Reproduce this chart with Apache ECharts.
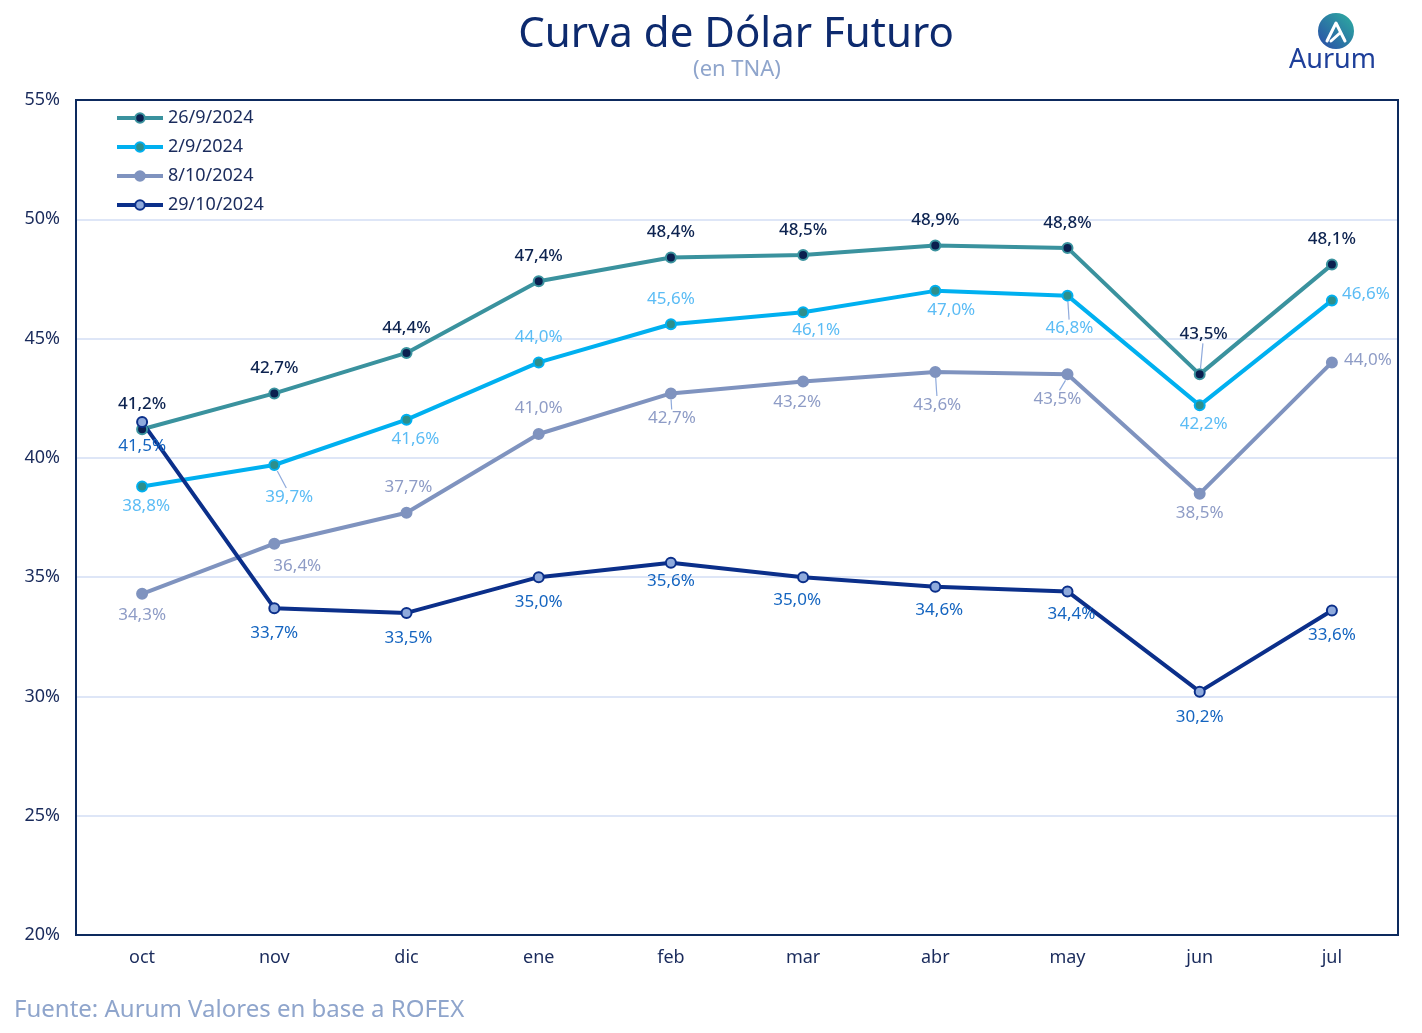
<!DOCTYPE html>
<html>
<head>
<meta charset="utf-8">
<script src="https://cdn.jsdelivr.net/npm/echarts@6/dist/echarts.min.js"></script>
<style>
html,body{margin:0;padding:0;background:#fff;}
#c{width:1422px;height:1033px;}
</style>
</head>
<body>
<div id="c"></div>
<script>
const categories = ['oct','nov','dic','ene','feb','mar','abr','may','jun','jul'];
const seriesNames = ['26/9/2024','2/9/2024','8/10/2024','29/10/2024'];
const s26_9 = [41.2, 42.7, 44.4, 47.4, 48.4, 48.5, 48.9, 48.8, 43.5, 48.1];
const s2_9 = [38.8, 39.7, 41.6, 44.0, 45.6, 46.1, 47.0, 46.8, 42.2, 46.6];
const s8_10 = [34.3, 36.4, 37.7, 41.0, 42.7, 43.2, 43.6, 43.5, 38.5, 44.0];
const s29_10 = [41.5, 33.7, 33.5, 35.0, 35.6, 35.0, 34.6, 34.4, 30.2, 33.6];
const yTicks = {min: 20, max: 55, interval: 5};

// label placement (style only): [dx, dy, leader]
const labelPlace = [
  [[0,-25],[0,-25],[0,-25],[0,-25],[0,-25],[0,-25],[0,-25],[0,-25],[4,-40,1],[0,-25]],
  [[4,20],[15,32,1],[9,19],[0,-25],[0,-25],[13,18],[16,19],[2,33,1],[4,19],[34,-6]],
  [[0,21],[23,22],[2,-26],[0,-26],[1,25,1],[-6,21],[2,33,1],[-10,25,1],[0,20],[36,-2]],
  [[0,24],[0,25],[2,25],[0,25],[0,18],[-6,23],[4,23],[4,23],[0,25],[0,25]]
];
const lineColors = ['#3a929e','#00b0f0','#7f93bf','#0b2f8a'];
const symFill = ['#0b1f4f','#2d8f8c','#7f93bf','#8faadc'];
const labelColors = ['#0d2350','#5bbcf5','#8e9cc6','#1565c0'];
const allData = [s26_9, s2_9, s8_10, s29_10];
const FONT = '"Noto Sans", sans-serif';

function fmt(v){ return v.toFixed(1).replace('.', ',') + '%'; }

const series = allData.map((arr, si) => ({
  name: seriesNames[si],
  type: 'line',
  data: arr.map((v, i) => ({
    value: v,
    label: {position: 'inside', offset: [labelPlace[si][i][0], labelPlace[si][i][1]]}
  })),
  symbol: 'circle',
  symbolSize: 10,
  lineStyle: {color: lineColors[si], width: 4},
  itemStyle: {color: symFill[si], borderColor: lineColors[si], borderWidth: 2},
  label: {
    show: true,
    formatter: p => fmt(p.value),
    color: labelColors[si],
    fontSize: 17,
    fontFamily: FONT,
    fontWeight: si === 0 ? 500 : 'normal'
  },
  emphasis: {disabled: true},
  animation: false
}));

const chart = echarts.init(document.getElementById('c'), null, {renderer: 'canvas'});
const option = {
  backgroundColor: '#ffffff',
  animation: false,
  legend: {
    orient: 'vertical',
    left: 110,
    top: 104,
    itemWidth: 46,
    itemHeight: 12,
    itemGap: 11,
    data: seriesNames,
    lineStyle: {width: 4},
    textStyle: {fontFamily: FONT, fontSize: 18, color: '#1a2b5c'}
  },
  grid: {
    left: 76, right: 24, top: 100, bottom: 98,
    show: false
  },
  xAxis: {
    type: 'category',
    data: categories,
    boundaryGap: true,
    axisLine: {show: false},
    axisTick: {show: false},
    axisLabel: {fontFamily: FONT, fontSize: 18, color: '#1a2b5c', margin: 14}
  },
  yAxis: {
    type: 'value',
    min: yTicks.min, max: yTicks.max, interval: yTicks.interval,
    axisLine: {show: false},
    axisTick: {show: false},
    splitLine: {showMinLine: false, showMaxLine: false, lineStyle: {color: '#d3def5', width: 1.5}},
    axisLabel: {fontFamily: FONT, fontSize: 18, color: '#1a2b5c', formatter: '{value}%', margin: 16}
  },
  series: series,
  graphic: [
    {
      type: 'text', x: 736, y: 35,
      style: {text: 'Curva de Dólar Futuro', fontFamily: FONT, fontSize: 42, fill: '#0d2a6e',
        align: 'center', verticalAlign: 'middle'}
    },
    {
      type: 'text', x: 737, y: 70,
      style: {text: '(en TNA)', fontFamily: FONT, fontSize: 22, fill: '#8fa5cc',
        align: 'center', verticalAlign: 'middle'}
    },
    {
      type: 'rect', shape: {x: 76, y: 100, width: 1322, height: 835},
      style: {fill: null, stroke: '#0d2a5e', lineWidth: 2}, z: 50
    },
    {
      type: 'circle', shape: {cx: 1336, cy: 31, r: 18},
      style: {fill: new echarts.graphic.LinearGradient(1, 0, 0, 1, [
        {offset: 0, color: '#2db0a0'}, {offset: 1, color: '#2a4aa8'}])}
    },
    {
      type: 'polyline', shape: {points: [[1327, 41], [1336, 23], [1345, 41]]},
      style: {stroke: '#ffffff', lineWidth: 3, fill: null, lineCap: 'round', lineJoin: 'round'}
    },
    {
      type: 'polyline', shape: {points: [[1331, 41], [1340, 33]]},
      style: {stroke: '#ffffff', lineWidth: 3, fill: null, lineCap: 'round'}
    },
    {
      type: 'text', left: 1289, top: 47,
      style: {text: 'Aurum', fontFamily: FONT, fontSize: 27, fill: '#1e3f9a'}
    },
    {
      type: 'text', left: 14, top: 998,
      style: {text: 'Fuente: Aurum Valores en base a ROFEX', fontFamily: FONT, fontSize: 24, fill: '#8fa5cc'}
    }
  ]
};
chart.setOption(option);

// leader lines computed from the chart's own scales
const leaders = [];
allData.forEach((arr, si) => {
  arr.forEach((v, i) => {
    const lp = labelPlace[si][i];
    if (!lp[2]) return;
    const p = chart.convertToPixel({seriesIndex: si}, [i, v]);
    const sgn = lp[1] > 0 ? 1 : -1;
    leaders.push({
      type: 'line',
      shape: {x1: p[0] + lp[0] * 0.2, y1: p[1] + sgn * 6, x2: p[0] + lp[0] * 0.8, y2: p[1] + lp[1] - sgn * 9},
      style: {stroke: '#8faadc', lineWidth: 1.2},
      z: 100
    });
  });
});
chart.setOption({graphic: option.graphic.concat(leaders)});
</script>
</body>
</html>
